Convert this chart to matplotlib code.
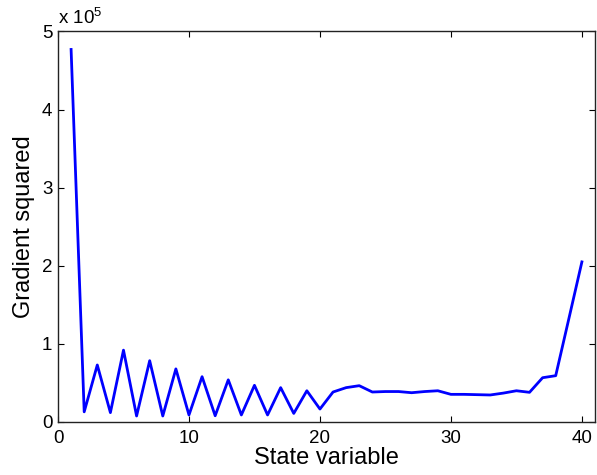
import matplotlib
matplotlib.use("Agg")
import matplotlib.pyplot as plt

plt.rcParams['font.family'] = ['Liberation Sans', 'DejaVu Sans']
plt.rcParams['mathtext.fontset'] = 'custom'
plt.rcParams['mathtext.rm'] = 'Liberation Sans'
plt.rcParams['mathtext.it'] = 'Liberation Sans'

state = list(range(1, 41))
grad_sq = [4.77, 0.13, 0.73, 0.12, 0.92, 0.077, 0.785, 0.077, 0.68, 0.09,
           0.58, 0.08, 0.54, 0.09, 0.47, 0.09, 0.44, 0.11, 0.40, 0.166,
           0.384, 0.44, 0.465, 0.384, 0.39, 0.39, 0.375, 0.39, 0.40, 0.354,
           0.354, 0.35, 0.346, 0.37, 0.40, 0.38, 0.567, 0.593, 1.32, 2.05]
grad_sq = [v * 1e5 for v in grad_sq]
xticks = [0, 10, 20, 30, 40]
yticks = [0, 1e5, 2e5, 3e5, 4e5, 5e5]
yticklabels = ['0', '1', '2', '3', '4', '5']

fig = plt.figure(figsize=(5.97, 4.75), dpi=100)
ax = fig.add_axes([58/597, 53/475, 537/597, 390.5/475])
ax.plot(state, grad_sq, color=(0, 0, 1), lw=2)
ax.set_xlim(0, 41)
ax.set_ylim(0, 5e5)
ax.set_xticks(xticks)
ax.set_yticks(yticks)
ax.set_yticklabels(yticklabels)
ax.tick_params(direction='in', top=True, right=True, labelsize=13.5, length=4, width=0.8)
ax.tick_params(axis='x', pad=6)
ax.tick_params(axis='y', pad=4)
for s in ax.spines.values():
    s.set_linewidth(1.0)
    s.set_color('#222222')
ax.set_xlabel('State variable', fontsize=17, labelpad=0)
ax.set_ylabel('Gradient squared', fontsize=17, labelpad=5)
ax.text(0.0, 1.01, r'x 10$^5$', transform=ax.transAxes, fontsize=13.5, ha='left', va='bottom')
fig.savefig('out.png', dpi=100)
